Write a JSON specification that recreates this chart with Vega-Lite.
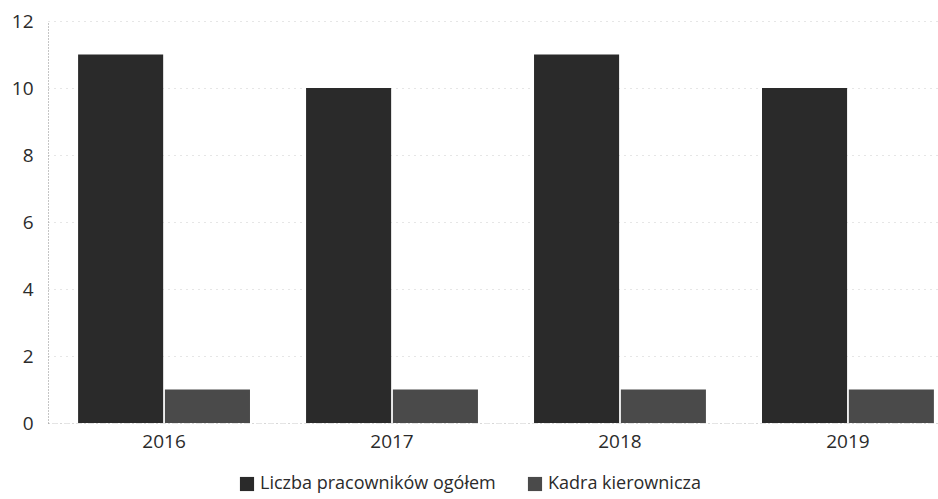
{
  "$schema": "https://vega.github.io/schema/vega-lite/v6.json",
  "width": 890,
  "height": 402,
  "padding": {"left": 11, "top": 12, "right": 0, "bottom": 0},
  "background": "white",
  "config": {
    "font": "Open Sans",
    "view": {"stroke": null},
    "axis": {
      "labelFont": "Open Sans",
      "labelFontSize": 19,
      "labelColor": "#2b2b2b",
      "ticks": false,
      "title": null
    },
    "legend": {
      "labelFont": "Open Sans",
      "labelFontSize": 18,
      "labelColor": "#2b2b2b",
      "labelLimit": 400
    }
  },
  "data": {
    "values": [
      {"rok": "2016", "seria": "Liczba pracowników ogółem", "wartosc": 11},
      {"rok": "2016", "seria": "Kadra kierownicza", "wartosc": 1},
      {"rok": "2017", "seria": "Liczba pracowników ogółem", "wartosc": 10},
      {"rok": "2017", "seria": "Kadra kierownicza", "wartosc": 1},
      {"rok": "2018", "seria": "Liczba pracowników ogółem", "wartosc": 11},
      {"rok": "2018", "seria": "Kadra kierownicza", "wartosc": 1},
      {"rok": "2019", "seria": "Liczba pracowników ogółem", "wartosc": 10},
      {"rok": "2019", "seria": "Kadra kierownicza", "wartosc": 1}
    ]
  },
  "mark": {"type": "bar"},
  "encoding": {
    "x": {
      "field": "rok",
      "type": "nominal",
      "scale": {"paddingInner": 0.246, "paddingOuter": 0.075, "align": 0.88},
      "axis": {
        "labelAngle": 0,
        "labelPadding": 9,
        "domain": true,
        "domainColor": "#c8c8c8",
        "domainDash": [1, 3],
        "domainWidth": 1
      }
    },
    "xOffset": {
      "field": "seria",
      "type": "nominal",
      "sort": ["Liczba pracowników ogółem", "Kadra kierownicza"],
      "scale": {"paddingInner": 0.02}
    },
    "y": {
      "field": "wartosc",
      "type": "quantitative",
      "scale": {"domain": [0, 12]},
      "axis": {
        "values": [0, 2, 4, 6, 8, 10, 12],
        "labelPadding": 15,
        "domain": true,
        "domainColor": "#8a8a8a",
        "domainDash": [1, 2],
        "domainWidth": 1,
        "grid": true,
        "gridColor": "#cccccc",
        "gridDash": [1, 5],
        "gridWidth": 1
      }
    },
    "color": {
      "field": "seria",
      "type": "nominal",
      "scale": {
        "domain": ["Liczba pracowników ogółem", "Kadra kierownicza"],
        "range": ["#2a2a2a", "#4a4a4a"]
      },
      "legend": {
        "title": null,
        "orient": "none",
        "legendX": 190,
        "legendY": 454,
        "direction": "horizontal",
        "symbolType": "square",
        "symbolSize": 200,
        "symbolStrokeWidth": 0,
        "columnPadding": 30,
        "labelOffset": 4
      }
    }
  }
}
